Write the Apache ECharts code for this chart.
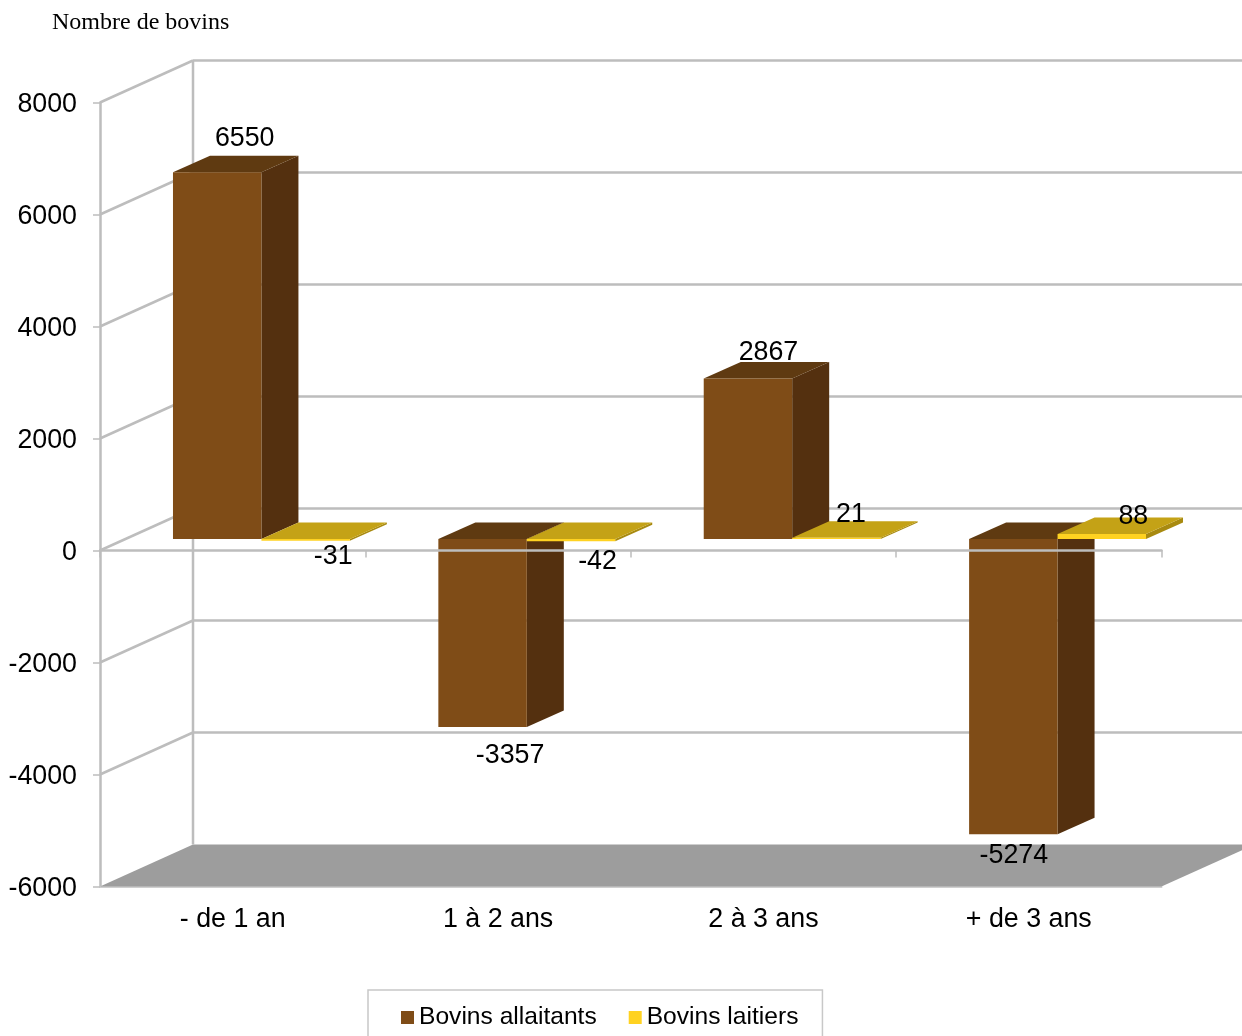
<!DOCTYPE html>
<html>
<head>
<meta charset="utf-8">
<style>html,body{margin:0;padding:0;background:#fff;overflow:hidden}#c{width:1242px;height:1036px}</style>
<script src="https://cdn.jsdelivr.net/npm/echarts@6/dist/echarts.min.js"></script>
</head>
<body>
<div id="c"></div>
<script>
const categories = ['- de 1 an', '1 à 2 ans', '2 à 3 ans', '+ de 3 ans'];
const allaitants = [6550, -3357, 2867, -5274];
const laitiers = [-31, -42, 21, 88];
const yTicks = [-6000, -4000, -2000, 0, 2000, 4000, 6000, 8000];
const titleText = 'Nombre de bovins';
const seriesNames = ['Bovins allaitants', 'Bovins laitiers'];

const FONT = '"Liberation Sans", Arial, sans-serif';
const GRID = '#bdbdbd';
const WALL_DX = 93, WALL_DY = -42;
const BAR_DX = 37, BAR_DY = -16.5, BAR_LIFT = 11.5;
const palettes = [
  { front: '#7f4c17', top: '#5f3a11', side: '#54300f' },
  { front: '#ffd221', top: '#c4a216', side: '#a88a10' }
];
// per-bar label nudges relative to the bar's centre and value end
const labelNudge = [
  [[27.5, -33.5], [27.5, 29], [20.5, -26], [0.5, 21]],
  [[27.5, 16], [26.5, 20.5], [14.5, -23.5], [31.5, -17.5]]
];

function renderWall(params, api) {
  const cs = params.coordSys;
  const v = api.value(0);
  const y = api.coord([0, v])[1];
  const x0 = cs.x, x1 = cs.x + cs.width;
  const style = { stroke: GRID, lineWidth: 2.5, fill: null };
  const kids = [];
  if (v === yTicks[0]) {
    kids.push({ type: 'polygon', silent: true,
      shape: { points: [[x0, y], [x0 + WALL_DX, y + WALL_DY], [x1 + WALL_DX, y + WALL_DY], [x1, y]] },
      style: { fill: '#9d9d9d' } });
    kids.push({ type: 'line', silent: true,
      shape: { x1: x0 + WALL_DX, y1: cs.y + WALL_DY, x2: x0 + WALL_DX, y2: y + WALL_DY }, style });
  } else {
    kids.push({ type: 'line', silent: true,
      shape: { x1: x0, y1: y, x2: x0 + WALL_DX, y2: y + WALL_DY }, style });
    kids.push({ type: 'line', silent: true,
      shape: { x1: x0 + WALL_DX, y1: y + WALL_DY, x2: x1 + WALL_DX, y2: y + WALL_DY }, style });
  }
  return { type: 'group', children: kids };
}

function renderBar(idx) {
  return function (params, api) {
    const c = api.coord([api.value(0), api.value(1)]);
    const zeroY = api.coord([api.value(0), 0])[1] - BAR_LIFT;
    const w = api.size([1, 0])[0] / 3;
    const l = c[0] - w * 0.675 + idx * w, r = l + w;
    const vy = c[1] - BAR_LIFT;
    const t = Math.min(vy, zeroY), b = Math.max(vy, zeroY);
    const p = palettes[idx];
    return { type: 'group', children: [
      { type: 'polygon', shape: { points: [[r, t], [r + BAR_DX, t + BAR_DY], [r + BAR_DX, b + BAR_DY], [r, b]] }, style: { fill: p.side } },
      { type: 'polygon', shape: { points: [[l, t], [l + BAR_DX, t + BAR_DY], [r + BAR_DX, t + BAR_DY], [r, t]] }, style: { fill: p.top } },
      { type: 'rect', shape: { x: l, y: t, width: w, height: b - t }, style: { fill: p.front } }
    ] };
  };
}

function renderLabel(idx) {
  return function (params, api) {
    const i = api.value(0), v = api.value(1);
    const c = api.coord([i, v]);
    const w = api.size([1, 0])[0] / 3;
    const cx = c[0] - w * 0.675 + idx * w + w / 2;
    const n = labelNudge[idx][i];
    return { type: 'text', silent: true, x: cx + n[0], y: c[1] - BAR_LIFT + n[1],
      style: { text: String(v), font: '26.8px ' + FONT, fill: '#000', align: 'center', verticalAlign: 'middle' } };
  };
}

const rows = a => a.map((v, i) => [i, v]);
const chart = echarts.init(document.getElementById('c'), null, { renderer: 'canvas' });
chart.setOption({
  animation: false,
  backgroundColor: '#fff',
  title: { text: titleText, left: 52, top: 11, padding: 0,
    textStyle: { fontFamily: '"Liberation Serif", serif', fontSize: 24, fontWeight: 'normal', color: '#000' } },
  grid: { left: 100, top: 102.5, width: 1061.5, height: 784, containLabel: false },
  legend: {
    left: 368, top: 990, data: seriesNames, icon: 'rect', itemWidth: 13, itemHeight: 13, itemGap: 32,
    padding: [15, 24, 40, 33], borderColor: '#c8c8c8', borderWidth: 1.5, backgroundColor: '#fff',
    textStyle: { fontFamily: FONT, fontSize: 24.6, color: '#000' },
    selectedMode: false
  },
  xAxis: [
    { type: 'category', data: categories, position: 'bottom',
      axisLine: { onZero: false, show: true, lineStyle: { color: '#cfcfcf', width: 2 } },
      axisTick: { show: false }, splitLine: { show: false },
      axisLabel: { color: '#000', fontFamily: FONT, fontSize: 26.8, margin: 20, interval: 0 } },
    { type: 'category', data: categories, position: 'bottom', z: 4,
      axisLine: { onZero: true, show: true, lineStyle: { color: GRID, width: 2.5 } },
      axisTick: { show: true, length: 7, lineStyle: { color: GRID, width: 1.5 } },
      axisLabel: { show: false }, splitLine: { show: false } }
  ],
  yAxis: { type: 'value', min: -6000, max: 8000, interval: 2000,
    axisLine: { show: true, onZero: false, lineStyle: { color: GRID, width: 2.5 } },
    axisTick: { show: true, length: 7, lineStyle: { color: GRID, width: 1.5 } },
    splitLine: { show: false },
    axisLabel: { margin: 23, formatter: v => '{t|' + v + '}',
      rich: { t: { color: '#000', fontFamily: FONT, fontSize: 26.8, padding: [4, 0, 0, 0] } } } },
  series: [
    { type: 'custom', name: 'walls', z: 1, clip: false, silent: true, renderItem: renderWall,
      coordinateSystem: 'cartesian2d', data: yTicks.map(v => [v]), encode: { y: 0 } },
    { type: 'custom', name: seriesNames[0], z: 2, clip: false, renderItem: renderBar(0),
      itemStyle: { color: palettes[0].front }, data: rows(allaitants), encode: { x: 0, y: 1 } },
    { type: 'custom', name: seriesNames[1], z: 3, clip: false, renderItem: renderBar(1),
      itemStyle: { color: palettes[1].front }, data: rows(laitiers), encode: { x: 0, y: 1 } },
    { type: 'custom', name: 'labels0', z: 6, clip: false, silent: true, renderItem: renderLabel(0),
      data: rows(allaitants), encode: { x: 0, y: 1 } },
    { type: 'custom', name: 'labels1', z: 6, clip: false, silent: true, renderItem: renderLabel(1),
      data: rows(laitiers), encode: { x: 0, y: 1 } }
  ]
});
</script>
</body>
</html>
